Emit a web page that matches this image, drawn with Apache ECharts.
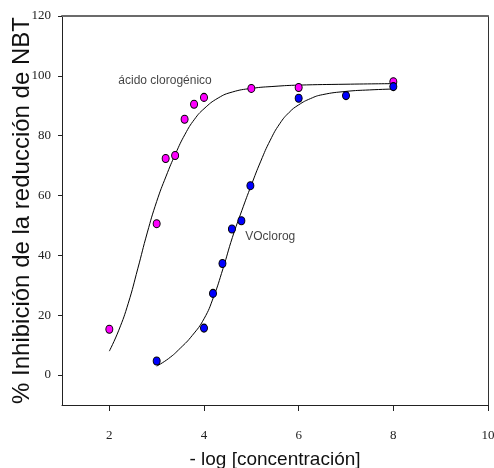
<!DOCTYPE html>
<html>
<head>
<meta charset="utf-8">
<script src="https://cdn.jsdelivr.net/npm/echarts@6/dist/echarts.min.js"></script>
<style>
  html, body { margin: 0; padding: 0; background: #ffffff; }
  #chart { width: 494px; height: 468px; }
</style>
</head>
<body>
<div id="chart"></div>
<script>
// Measured inhibition (%) for each compound, x = -log[concentration]
const acidoX = [2, 3, 3.19, 3.39, 3.59, 3.79, 4.0, 5.0, 6.0, 8.0];
const acidoY = [15.3, 50.6, 72.4, 73.4, 85.5, 90.5, 92.8, 95.8, 96.1, 98.0];
const voX = [3, 4, 4.19, 4.39, 4.59, 4.79, 4.98, 6.0, 7.0, 8.0];
const voY = [4.7, 15.7, 27.3, 37.3, 48.8, 51.6, 63.3, 92.5, 93.4, 96.4];

// Fitted dose-response curves, read point by point
const acidoFitX = [2.0, 2.2, 2.4, 2.6, 2.8, 3.0, 3.2, 3.4, 3.6, 3.8, 4.0, 4.3, 4.6, 5.0, 5.5, 6.0, 7.0, 8.0];
const acidoFitY = [8.0, 15.0, 24.0, 35.5, 47.5, 58.0, 66.5, 74.0, 80.5, 85.5, 89.0, 92.6, 94.6, 95.8, 96.5, 96.9, 97.2, 97.4];
const voFitX = [3.0, 3.25, 3.5, 3.75, 4.0, 4.2, 4.4, 4.6, 4.8, 5.0, 5.2, 5.4, 5.6, 5.8, 6.0, 6.25, 6.5, 7.0, 7.5, 8.0];
const voFitY = [3.0, 5.5, 9.0, 13.2, 18.8, 26.0, 35.5, 46.0, 55.0, 63.5, 71.5, 78.5, 84.0, 87.8, 90.3, 92.4, 93.7, 94.8, 95.3, 95.6];

// Tick labels
const xTicks = [2, 4, 6, 8, 10];
const yTicks = [0, 20, 40, 60, 80, 100, 120];

// Curve annotations
const curveNames = ['ácido clorogénico', 'VOclorog'];
const curveNameX = [2.18, 4.86];
const curveNameY = [98.5, 46.3];

const pairs = (xs, ys) => xs.map((x, i) => [x, ys[i]]);

const chart = echarts.init(document.getElementById('chart'), null, { renderer: 'canvas' });

const tickFont = { fontFamily: 'Liberation Serif', fontSize: 13, color: '#222' };

chart.setOption({
  animation: false,
  backgroundColor: '#ffffff',
  grid: { left: 62, right: 6, top: 16, bottom: 63, containLabel: false, outerBoundsMode: 'none' },
  xAxis: [
    {
      type: 'value', min: 1, max: 10, position: 'bottom',
      name: '- log [concentración]', nameLocation: 'middle', nameGap: 45,
      nameTextStyle: { fontFamily: 'Liberation Sans', fontSize: 19, color: '#111' },
      axisLine: { show: true, onZero: false, lineStyle: { color: '#222', width: 1 } },
      axisTick: { show: true, inside: false, length: 6, customValues: xTicks, lineStyle: { color: '#222' } },
      axisLabel: Object.assign({ margin: 24, customValues: xTicks }, tickFont),
      splitLine: { show: false }
    },
    {
      type: 'value', min: 1, max: 10, position: 'top',
      axisLine: { show: true, onZero: false, lineStyle: { color: '#6b6b6b', width: 2 } },
      axisTick: { show: false }, axisLabel: { show: false }, splitLine: { show: false }
    }
  ],
  yAxis: [
    {
      type: 'value', min: -10, max: 120, position: 'left',
      name: '% Inhibición de la reducción de NBT', nameLocation: 'middle', nameGap: 28,
      nameMoveOverlap: false,
      nameTextStyle: { fontFamily: 'Liberation Sans', fontSize: 24, color: '#111' },
      axisLine: { show: true, onZero: false, lineStyle: { color: '#222', width: 1 } },
      axisTick: { show: true, inside: false, length: 4, customValues: yTicks, lineStyle: { color: '#222' } },
      axisLabel: Object.assign({ margin: 11, customValues: yTicks }, tickFont),
      splitLine: { show: false }
    },
    {
      type: 'value', min: -10, max: 120, position: 'right',
      axisLine: { show: true, onZero: false, lineStyle: { color: '#333', width: 1 } },
      axisTick: { show: false }, axisLabel: { show: false }, splitLine: { show: false }
    }
  ],
  series: [
    {
      name: 'ajuste ácido clorogénico', type: 'line', smooth: true, showSymbol: false,
      data: pairs(acidoFitX, acidoFitY), lineStyle: { color: '#000', width: 1 }, z: 2
    },
    {
      name: 'ajuste VOclorog', type: 'line', smooth: true, showSymbol: false,
      data: pairs(voFitX, voFitY), lineStyle: { color: '#000', width: 1 }, z: 2
    },
    {
      name: 'ácido clorogénico', type: 'scatter', symbol: 'circle', symbolSize: [7, 8],
      data: pairs(acidoX, acidoY),
      itemStyle: { color: '#ff00ff', borderColor: '#000', borderWidth: 1, opacity: 1 }, z: 4
    },
    {
      name: 'VOclorog', type: 'scatter', symbol: 'circle', symbolSize: [7, 8],
      data: pairs(voX, voY),
      itemStyle: { color: '#0000ff', borderColor: '#000', borderWidth: 1, opacity: 1 }, z: 5
    },
    {
      name: 'etiquetas', type: 'scatter', symbol: 'circle', symbolSize: 1, silent: true,
      itemStyle: { color: 'rgba(0,0,0,0)' },
      labelLayout: { hideOverlap: false },
      data: curveNames.map((n, i) => ({ value: [curveNameX[i], curveNameY[i]], name: n })),
      label: {
        show: true, position: 'right', distance: 0, formatter: p => p.name,
        fontFamily: 'Liberation Sans', fontSize: 12, color: '#111'
      }, z: 6
    }
  ]
});
</script>
</body>
</html>
